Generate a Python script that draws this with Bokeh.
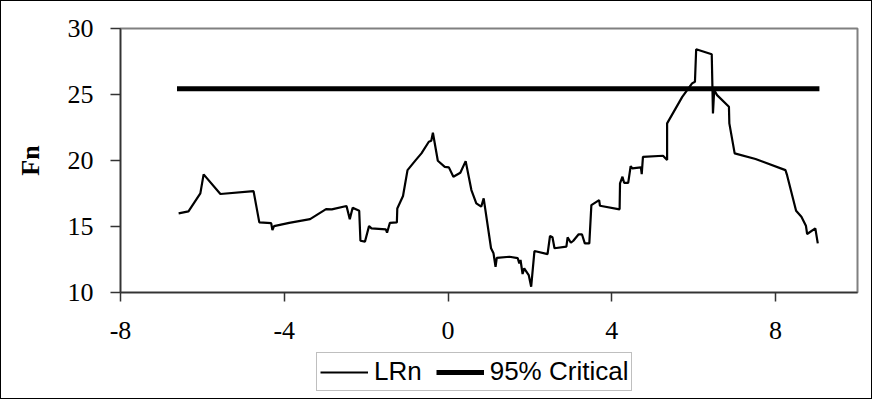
from bokeh.plotting import figure
from bokeh.layouts import column
from bokeh.models import Range1d, FixedTicker, Legend, LegendItem
from bokeh.embed import file_html
from bokeh.resources import INLINE

# LRn series (x, Fn)
lrn_x = [-6.58, -6.34, -6.05, -5.97, -5.56, -4.75, -4.61, -4.32, -4.29, -4.25,
         -3.88, -3.37, -2.98, -2.84, -2.48, -2.40, -2.33, -2.17, -2.14, -2.03,
         -1.93, -1.87, -1.52, -1.49, -1.42, -1.25, -1.24, -1.10, -0.99, -0.79,
         -0.65, -0.47, -0.41, -0.37, -0.25, -0.08, 0.02, 0.13, 0.30, 0.43,
         0.57, 0.69, 0.81, 0.87, 1.05, 1.11, 1.16, 1.19, 1.50, 1.70,
         1.74, 1.77, 1.82, 1.86, 1.97, 2.03, 2.11, 2.43, 2.49, 2.55,
         2.60, 2.89, 2.92, 3.00, 3.06, 3.19, 3.27, 3.34, 3.45, 3.50,
         3.69, 3.71, 4.19, 4.20, 4.26, 4.30, 4.40, 4.46, 4.50, 4.71,
         4.73, 4.76, 5.25, 5.35, 5.35, 5.72, 5.96, 6.03, 6.06, 6.44,
         6.47, 6.50, 6.57, 6.86, 6.87, 7.00, 7.51, 8.24, 8.28, 8.50,
         8.63, 8.74, 8.77, 8.97, 9.03]
lrn_y = [16.00, 16.15, 17.51, 18.95, 17.46, 17.68, 15.31, 15.26, 14.73, 15.03,
         15.28, 15.56, 16.32, 16.30, 16.55, 15.56, 16.42, 16.19, 13.92, 13.85,
         15.03, 14.86, 14.78, 14.53, 15.28, 15.31, 16.37, 17.31, 19.27, 20.03,
         20.54, 21.42, 21.49, 22.10, 19.98, 19.52, 19.48, 18.77, 19.07, 19.95,
         17.76, 16.75, 16.50, 17.13, 13.35, 12.97, 11.95, 12.63, 12.71, 12.61,
         12.21, 12.46, 11.40, 11.83, 11.32, 10.44, 13.14, 12.91, 14.28, 14.18,
         13.35, 13.47, 14.18, 13.77, 13.92, 14.41, 14.41, 13.72, 13.72, 16.62,
         17.00, 16.57, 16.30, 18.27, 18.77, 18.31, 18.31, 19.58, 19.40, 19.48,
         18.97, 20.28, 20.36, 20.03, 22.81, 24.82, 25.84, 25.96, 28.43, 28.05,
         23.57, 25.33, 24.95, 24.07, 22.81, 20.54, 20.11, 19.27, 18.89, 16.19,
         15.74, 15.06, 14.43, 14.86, 13.72]

# 95% critical value
crit_x = [-6.62, 9.07]
crit_y = [25.44, 25.44]

x_ticks = [-8, -4, 0, 4, 8]
x_tick_labels = ["-8", "-4", "0", "4", "8"]
y_ticks = [10, 15, 20, 25, 30]
series_names = ["LRn", "95% Critical"]

W = 872
p = figure(width=W, height=350, output_backend="svg", toolbar_location=None,
           x_range=Range1d(-8, 10), y_range=Range1d(10, 30),
           min_border_left=119, min_border_right=16,
           min_border_top=27, min_border_bottom=59)
p.styles = {"border": "1px solid black", "border-bottom": "none"}

p.grid.visible = False
p.background_fill_color = "white"
p.border_fill_color = "white"
p.outline_line_color = "#808080"
p.outline_line_width = 2

p.line(lrn_x, lrn_y, line_color="black", line_width=2.2)
p.line(crit_x, crit_y, line_color="black", line_width=5)

for ax in (p.xaxis[0], p.yaxis[0]):
    ax.axis_line_color = "#333333"
    ax.axis_line_width = 1.5
    ax.major_tick_line_color = "#333333"
    ax.major_tick_line_width = 1.5
    ax.major_tick_in = 0
    ax.minor_tick_line_color = None
    ax.major_label_text_font = "Liberation Serif"
    ax.major_label_text_font_size = "26px"
    ax.major_label_text_color = "black"

p.xaxis[0].ticker = FixedTicker(ticks=x_ticks)
p.xaxis[0].major_label_overrides = {t: s for t, s in zip(x_ticks, x_tick_labels)}
p.yaxis[0].ticker = FixedTicker(ticks=y_ticks)
p.xaxis[0].major_tick_out = 9
p.yaxis[0].major_tick_out = 10
p.xaxis[0].major_label_standoff = 20
p.yaxis[0].major_label_standoff = 17

p.yaxis[0].axis_label = "Fn"
p.yaxis[0].axis_label_text_font = "Liberation Serif"
p.yaxis[0].axis_label_text_font_style = "bold"
p.yaxis[0].axis_label_text_font_size = "26px"
p.yaxis[0].axis_label_text_color = "black"
p.yaxis[0].axis_label_standoff = 20

# legend strip below the chart (series drawn out of view, only legend shows)
p2 = figure(width=W, height=49, output_backend="svg", toolbar_location=None,
            x_range=Range1d(100, 101), y_range=Range1d(100, 101),
            x_axis_type=None, y_axis_type=None,
            min_border_left=119, min_border_right=16,
            min_border_top=0, min_border_bottom=0)
p2.styles = {"border": "1px solid black", "border-top": "none"}
p2.grid.visible = False
p2.outline_line_color = None
p2.background_fill_color = "white"
p2.border_fill_color = "white"
k1 = p2.line(lrn_x, lrn_y, line_color="black", line_width=2.2)
k2 = p2.line(crit_x, crit_y, line_color="black", line_width=5)

legend = Legend(items=[LegendItem(label=series_names[0], renderers=[k1]),
                       LegendItem(label=series_names[1], renderers=[k2])],
                orientation="horizontal", location=(196, 8))
legend.label_text_font = "Liberation Sans"
legend.label_text_font_size = "26px"
legend.label_text_color = "black"
legend.border_line_color = "#808080"
legend.border_line_width = 1.5
legend.background_fill_color = "white"
legend.background_fill_alpha = 1
legend.padding = 3
legend.margin = 0
legend.spacing = 14
legend.glyph_width = 48
legend.glyph_height = 26
legend.label_height = 26
legend.label_standoff = 6
p2.add_layout(legend, "center")

layout = column(p, p2, spacing=0)
open("out.html", "w").write(file_html(layout, INLINE))
